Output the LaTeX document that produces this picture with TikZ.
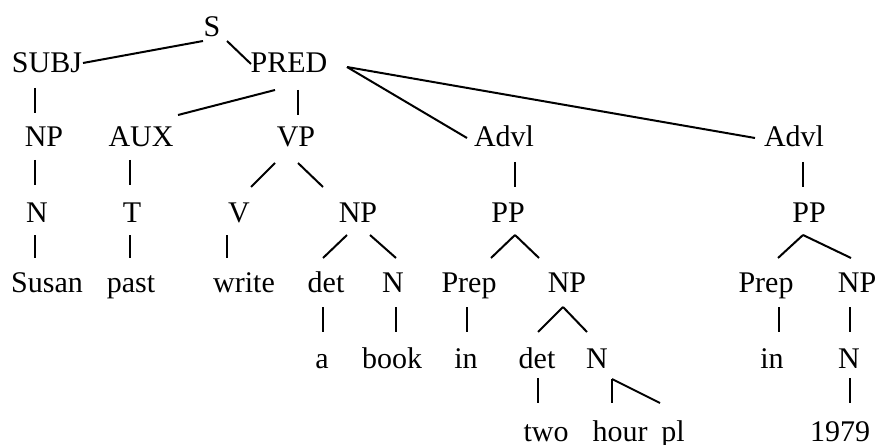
\documentclass[tikz,border=0pt]{standalone}
\usepackage{fontspec}
\setmainfont{Liberation Serif}
\begin{document}
\begin{tikzpicture}[x=0.75pt,y=-0.75pt,
  lbl/.style={inner sep=0pt,anchor=base,font=\fontsize{22.5}{27}\selectfont},
  branch/.style={line width=1.5pt,line cap=butt}]
\useasboundingbox (0,0) rectangle (880,445);

% labels, placed by their baselines
\node[lbl] (S)     at (212,37)  {S};
\node[lbl] (SUBJ)  at (47,73)   {SUBJ};
\node[lbl] (PRED)  at (289,73)  {PRED};

\node[lbl] (NPa)   at (44,147)  {NP};
\node[lbl] (AUX)   at (141,147) {AUX};
\node[lbl] (VP)    at (296,147) {VP};
\node[lbl] (ADVa)  at (504,147) {Advl};
\node[lbl] (ADVb)  at (794,147) {Advl};

\node[lbl] (Na)    at (37,222)  {N};
\node[lbl] (T)     at (132,222) {T};
\node[lbl] (V)     at (239,222) {V};
\node[lbl] (NPb)   at (358,222) {NP};
\node[lbl] (PPa)   at (508,222) {PP};
\node[lbl] (PPb)   at (809,222) {PP};

\node[lbl] (Susan) at (47,292)  {Susan};
\node[lbl] (past)  at (131,292) {past};
\node[lbl] (write) at (244,292) {write};
\node[lbl] (deta)  at (326,292) {det};
\node[lbl] (Nb)    at (393,292) {N};
\node[lbl] (Prepa) at (469,292) {Prep};
\node[lbl] (NPc)   at (567,292) {NP};
\node[lbl] (Prepb) at (766,292) {Prep};
\node[lbl] (NPd)   at (857,292) {NP};

\node[lbl] (a)     at (322,368) {a};
\node[lbl] (book)  at (392,368) {book};
\node[lbl] (ina)   at (466,368) {in};
\node[lbl] (detb)  at (537,368) {det};
\node[lbl] (Nc)    at (597,368) {N};
\node[lbl] (inb)   at (772,368) {in};
\node[lbl] (Nd)    at (849,368) {N};

\node[lbl] (two)   at (546,441) {two};
\node[lbl] (hour)  at (620,441) {hour};
\node[lbl] (pl)    at (673,441) {pl};
\node[lbl] (year)  at (840,441) {1979};

% branches, each end offset from its label's baseline
\draw[branch] ([shift={(-9,4)}]S.base)    -- ([shift={(36,-10)}]SUBJ.base);
\draw[branch] ([shift={(15,4)}]S.base)    -- ([shift={(-38,-9)}]PRED.base);

\draw[branch] ([shift={(-14,17)}]PRED.base) -- ([shift={(37,-32)}]AUX.base);
\draw[branch] ([shift={(9,17)}]PRED.base)   -- ([shift={(2,-32)}]VP.base);
\draw[branch] ([shift={(58,-6)}]PRED.base)  -- ([shift={(-37,-9)}]ADVa.base);
\draw[branch] ([shift={(58,-6)}]PRED.base)  -- ([shift={(-39,-9)}]ADVb.base);
\draw[branch] ([shift={(-12,15)}]SUBJ.base) -- ([shift={(-9,-34)}]NPa.base);

\draw[branch] ([shift={(-9,13)}]NPa.base)  -- ([shift={(-2,-37)}]Na.base);
\draw[branch] ([shift={(-11,13)}]AUX.base) -- ([shift={(-2,-37)}]T.base);
\draw[branch] ([shift={(-21,16)}]VP.base)  -- ([shift={(12,-35)}]V.base);
\draw[branch] ([shift={(2,16)}]VP.base)    -- ([shift={(-35,-35)}]NPb.base);
\draw[branch] ([shift={(11,15)}]ADVa.base) -- ([shift={(7,-35)}]PPa.base);
\draw[branch] ([shift={(9,15)}]ADVb.base)  -- ([shift={(-6,-35)}]PPb.base);

\draw[branch] ([shift={(-2,13)}]Na.base)   -- ([shift={(-12,-34)}]Susan.base);
\draw[branch] ([shift={(-2,13)}]T.base)    -- ([shift={(-1,-34)}]past.base);
\draw[branch] ([shift={(-12,13)}]V.base)   -- ([shift={(-17,-34)}]write.base);
\draw[branch] ([shift={(-11,13)}]NPb.base) -- ([shift={(-3,-34)}]deta.base);
\draw[branch] ([shift={(12,13)}]NPb.base)  -- ([shift={(3,-34)}]Nb.base);
\draw[branch] ([shift={(7,13)}]PPa.base)   -- ([shift={(22,-34)}]Prepa.base);
\draw[branch] ([shift={(7,13)}]PPa.base)   -- ([shift={(-28,-34)}]NPc.base);
\draw[branch] ([shift={(-6,13)}]PPb.base)  -- ([shift={(12,-34)}]Prepb.base);
\draw[branch] ([shift={(-6,13)}]PPb.base)  -- ([shift={(-6,-34)}]NPd.base);

\draw[branch] ([shift={(-3,15)}]deta.base)  -- ([shift={(1,-36)}]a.base);
\draw[branch] ([shift={(3,15)}]Nb.base)     -- ([shift={(4,-36)}]book.base);
\draw[branch] ([shift={(-2,15)}]Prepa.base) -- ([shift={(1,-36)}]ina.base);
\draw[branch] ([shift={(-4,15)}]NPc.base)   -- ([shift={(1,-36)}]detb.base);
\draw[branch] ([shift={(-4,15)}]NPc.base)   -- ([shift={(-10,-36)}]Nc.base);
\draw[branch] ([shift={(13,15)}]Prepb.base) -- ([shift={(7,-36)}]inb.base);
\draw[branch] ([shift={(-7,15)}]NPd.base)   -- ([shift={(1,-36)}]Nd.base);

\draw[branch] ([shift={(1,10)}]detb.base) -- ([shift={(-8,-38)}]two.base);
\draw[branch] ([shift={(15,11)}]Nc.base)  -- ([shift={(-8,-38)}]hour.base);
\draw[branch] ([shift={(15,11)}]Nc.base)  -- ([shift={(-13,-38)}]pl.base);
\draw[branch] ([shift={(1,10)}]Nd.base)   -- ([shift={(10,-38)}]year.base);
\end{tikzpicture}
\end{document}
